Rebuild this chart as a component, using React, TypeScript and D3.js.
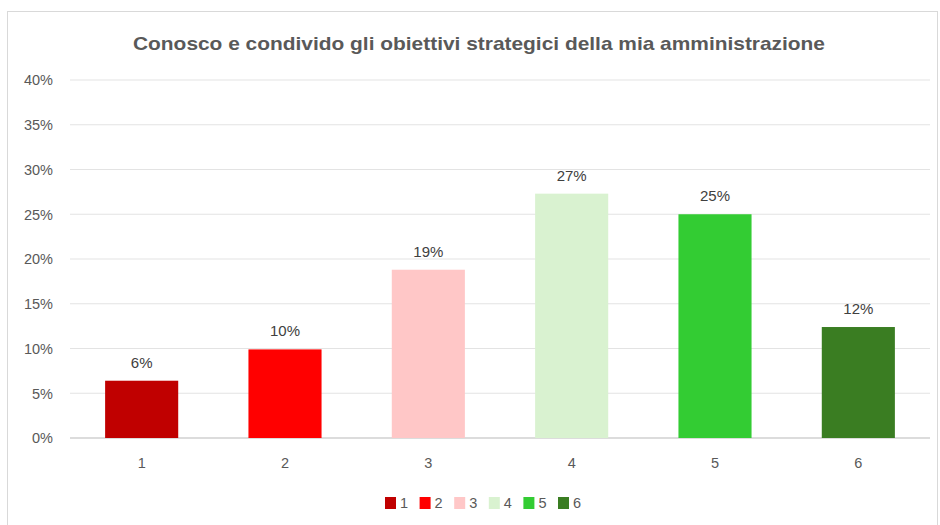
import React from "react";
import * as d3 from "d3";

const categories = ["1", "2", "3", "4", "5", "6"];
const values = [0.064, 0.099, 0.188, 0.273, 0.25, 0.124];
const labels = ["6%", "10%", "19%", "27%", "25%", "12%"];
const colors = ["#C00000", "#FF0000", "#FFC7C7", "#D9F2D0", "#33CC33", "#3A7D22"];
const yTicks = [0, 0.05, 0.1, 0.15, 0.2, 0.25, 0.3, 0.35, 0.4];
const title = "Conosco e condivido gli obiettivi strategici della mia amministrazione";

export default function App() {
  const W = 940, H = 525;
  const x = d3.scaleBand<string>().domain(categories).range([70, 930]).paddingInner(0.49).paddingOuter(0.245);
  const y = d3.scaleLinear().domain([0, 0.4]).range([438, 80]);
  const fmt = d3.format(".0%");
  const font = "'Liberation Sans', Arial, sans-serif";
  const txt = "#595959";
  return (
    <svg width={W} height={H} style={{ position: "absolute", left: 0, top: 0, background: "#fff" }}>
      <rect x={7.5} y={11.5} width={930} height={530} fill="#fff" stroke="#d9d9d9" />
      <text x={479} y={50} textAnchor="middle" fontFamily={font} fontSize={19} fontWeight={600} fill="#595959" textLength={692} lengthAdjust="spacingAndGlyphs">{title}</text>
      {yTicks.map((t) => (
        <g key={t}>
          <line x1={70} x2={930} y1={y(t)} y2={y(t)} stroke={t === 0 ? "#d0d0d0" : "#e3e3e3"} strokeWidth={t === 0 ? 1.5 : 1} />
          <text x={53} y={y(t)} dy="0.37em" textAnchor="end" fontFamily={font} fontSize={14.5} fill={txt}>{fmt(t)}</text>
        </g>
      ))}
      {categories.map((c, i) => (
        <g key={c}>
          <rect x={x(c)} y={y(values[i])} width={x.bandwidth()} height={y(0) - y(values[i])} fill={colors[i]} />
          <text x={(x(c) as number) + x.bandwidth() / 2} y={y(values[i]) - 13} textAnchor="middle" fontFamily={font} fontSize={15} fill="#404040">{labels[i]}</text>
          <text x={(x(c) as number) + x.bandwidth() / 2} y={468} textAnchor="middle" fontFamily={font} fontSize={14.5} fill={txt}>{c}</text>
        </g>
      ))}
      {categories.map((c, i) => (
        <g key={"lg" + c} transform={`translate(${385 + i * 34.6},0)`}>
          <rect x={0} y={497} width={11} height={12} fill={colors[i]} />
          <text x={15} y={508} fontFamily={font} fontSize={14.5} fill={txt}>{c}</text>
        </g>
      ))}
    </svg>
  );
}
